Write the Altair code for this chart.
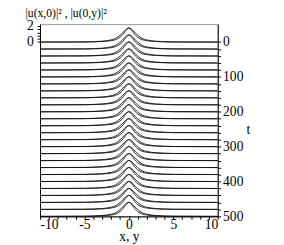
import altair as alt
import pandas as pd

# stacked time slices
t_values = list(range(0, 501, 20))

x_pts = [-10, -5, -4, -3, -2.5, -2, -1.5, -1, -0.75, -0.5, -0.25, 0,
         0.25, 0.5, 0.75, 1, 1.5, 2, 2.5, 3, 4, 5, 10]
u_x0 = [0, 0.01, 0.03, 0.07, 0.11, 0.17, 0.30, 0.60, 0.85, 1.20, 1.55, 1.75,
        1.55, 1.20, 0.85, 0.60, 0.30, 0.17, 0.11, 0.07, 0.03, 0.01, 0]
u_0y = [0, 0.02, 0.05, 0.11, 0.17, 0.27, 0.45, 0.85, 1.10, 1.40, 1.65, 1.75,
        1.65, 1.40, 1.10, 0.85, 0.45, 0.27, 0.17, 0.11, 0.05, 0.02, 0]

left_ticks = [0, 0.4, 0.8, 1.2, 1.6, 2.0]
amp = 23  # t-units per unit of |u|^2

rows = []
for t in t_values:
    for name, prof in (("x0", u_x0), ("0y", u_0y)):
        for x, u in zip(x_pts, prof):
            rows.append({"t": t, "series": name, "key": f"{name}_{t}", "x": x, "u": u})
df = pd.DataFrame(rows)

font = "Liberation Serif"
yscale = alt.Scale(domain=[-51.5, 500], reverse=True, nice=False, zero=False)

base = alt.Chart(df).transform_calculate(yy=f"datum.t - {amp}*datum.u")

lines = base.mark_line(color="#111", strokeWidth=0.9, interpolate="monotone").encode(
    x=alt.X("x:Q", scale=alt.Scale(domain=[-10, 10], nice=False),
            axis=alt.Axis(values=list(range(-10, 11)), tickSize=3, labelPadding=-1,
                          labelExpr="datum.value % 5 == 0 ? (datum.value < 0 ? '-' + abs(datum.value) : '' + datum.value) : ''",
                          title="x, y", titleY=25, titleBaseline="alphabetic",
                          titleFontWeight="normal")),
    y=alt.Y("yy:Q", scale=yscale,
            axis=alt.Axis(orient="right", values=t_values, tickSize=3, labelPadding=2,
                          labelExpr="datum.value % 100 == 0 ? datum.label : ''",
                          title="t", titleAngle=0, titleX=29, titleY=109,
                          titleAlign="left", titleBaseline="middle",
                          titleFontWeight="normal")),
    detail="key:N",
    order="x:Q",
)

left = base.mark_point(opacity=0).encode(
    y=alt.Y("yy:Q", scale=yscale,
            axis=alt.Axis(orient="left", values=[-amp * v for v in left_ticks],
                          tickSize=3, labelPadding=4,
                          labelExpr="datum.value == 0 ? '0' : (datum.value < -45 ? '2' : '')",
                          title=None)),
)

chart = alt.layer(lines, left).resolve_axis(y="independent").properties(
    width=183, height=198,
    autosize=alt.AutoSizeParams(type="none"),
    padding={"left": 33, "top": 13, "right": 60, "bottom": 30},
    title=alt.TitleParams("|u(x,0)|² , |u(0,y)|²", anchor="start", dx=-15,
                          frame="group", offset=-1, font=font, fontSize=12,
                          fontWeight="normal", color="black"),
).configure_view(stroke="#999", strokeWidth=1).configure_axis(
    grid=False, domainColor="black", tickColor="black", labelColor="black",
    labelFont=font, labelFontSize=14, titleFont=font, titleFontSize=14,
    titleColor="black",
)

chart.save("out.html", embed_options={"renderer": "svg", "actions": False})
